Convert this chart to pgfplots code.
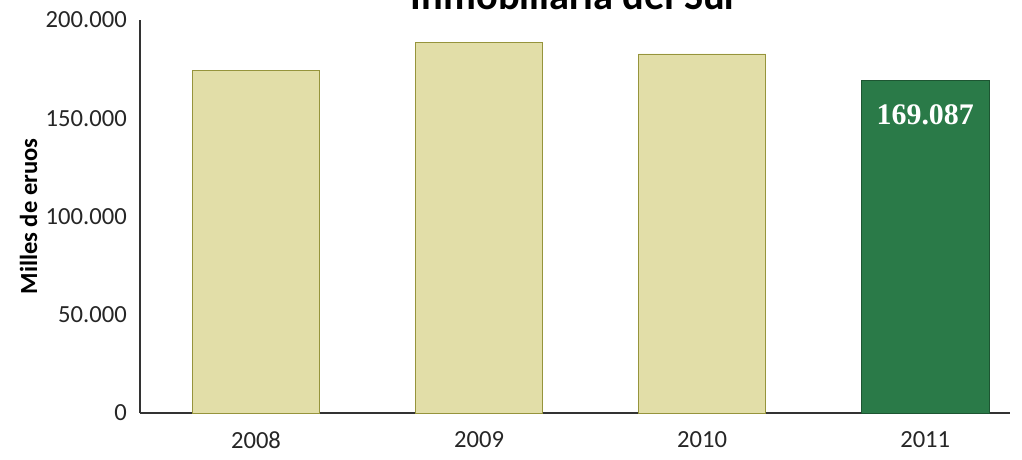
\documentclass[border=0pt]{standalone}
\usepackage{pgfplots}
\pgfplotsset{compat=1.18}
\usepackage{fontspec}
\setmainfont{Carlito}
\newfontfamily\labelfont{Liberation Serif}
\definecolor{barpale}{RGB}{226,222,168}
\definecolor{bardark}{RGB}{42,122,72}
\definecolor{baredge}{RGB}{150,148,60}
\begin{document}
\begin{tikzpicture}
\begin{axis}[
  scale only axis,
  width=17.4cm, height=7.86cm,
  xmin=-0.52, xmax=3.38,
  ymin=0, ymax=200000,
  xtick={0,1,2,3},
  xticklabels={2008,2009,2010,2011},
  ytick={0,50000,100000,150000,200000},
  yticklabels={0,50.000,100.000,150.000,200.000},
  scaled y ticks=false,
  tick label style={font=\fontsize{14}{16}\selectfont, text=black!85},
  xticklabel style={yshift=-3pt},
  yticklabel style={xshift=-4pt},
  xtick style={draw=none},
  ytick style={draw=none},
  axis x line*=bottom,
  axis y line*=left,
  axis line style={black!80, line width=0.6pt},
  ylabel={\bfseries Milles de eruos},
  ylabel style={font=\fontsize{14}{16}\selectfont, yshift=-2pt},
  title={\bfseries Inmobiliaria del Sur},
  title style={font=\fontsize{23}{26}\selectfont, yshift=-4pt},
  ybar, bar width=2.55cm, bar shift=0pt,
  clip=false,
]
\addplot[fill=barpale, draw=baredge, line width=0.5pt, bar shift=0pt] coordinates {(0,174500) (1,188800) (2,182700)};
\addplot[fill=bardark, draw=bardark!70!black, line width=0.5pt, bar shift=0pt,
  nodes near coords, point meta=explicit symbolic,
  every node near coord/.append style={font=\labelfont\bfseries\fontsize{17}{19}\selectfont, text=white, anchor=north, yshift=-10pt}]
  coordinates {(3,169087)[169.087]};
\end{axis}
\pgfresetboundingbox
\path[use as bounding box] (current axis.south west) ++(-2.8cm,-0.92cm) rectangle ([xshift=0.24cm,yshift=0.4cm]current axis.north east);
\end{tikzpicture}
\end{document}
